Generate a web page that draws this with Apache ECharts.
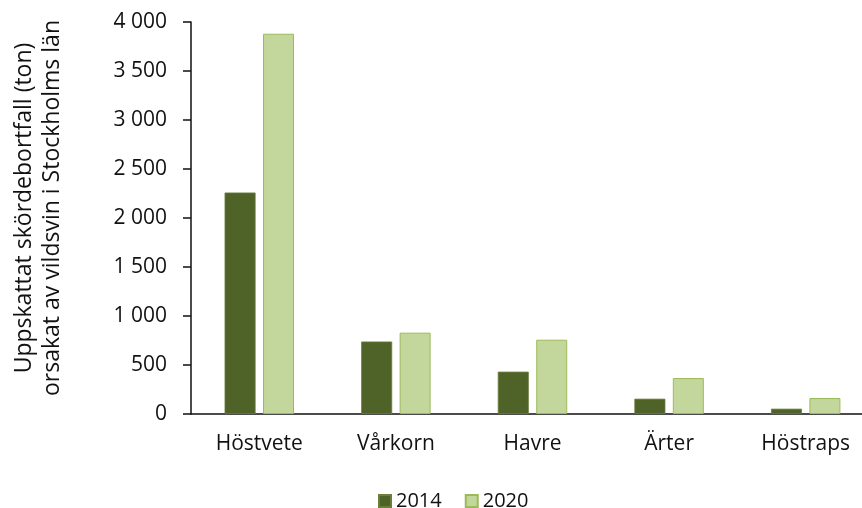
<!DOCTYPE html>
<html>
<head>
<meta charset="utf-8">
<script src="https://cdn.jsdelivr.net/npm/echarts@6/dist/echarts.min.js"></script>
<style>
html,body{margin:0;padding:0;background:#fff;}
#c{width:862px;height:508px;}
</style>
</head>
<body>
<div id="c"></div>
<script>
var categories = ['Höstvete', 'Vårkorn', 'Havre', 'Ärter', 'Höstraps'];
var series2014 = [2260, 740, 432, 156, 54];
var series2020 = [3880, 830, 758, 367, 163];
var seriesNames = ['2014', '2020'];
var yTitleLines = ['Uppskattat skördebortfall (ton)', 'orsakat av vildsvin i Stockholms län'];

var FONT = '"Open Sans", sans-serif';
var chart = echarts.init(document.getElementById('c'));
chart.setOption({
  animation: false,
  backgroundColor: '#fff',
  textStyle: { fontFamily: FONT, color: '#111' },
  grid: { left: 191, top: 22, height: 392, width: 683, containLabel: false, outerBoundsMode: 'none' },
  legend: {
    data: seriesNames,
    left: 373, top: 486,
    itemWidth: 12, itemHeight: 12, itemGap: 23,
    icon: 'rect',
    textStyle: { fontFamily: FONT, fontSize: 20, color: '#111', padding: [0, 0, 0, 0] }
  },
  graphic: [
    { type: 'text', x: 24, y: 208, rotation: Math.PI / 2,
      style: { text: yTitleLines[0], font: '23px ' + FONT, fill: '#111', textAlign: 'center', textVerticalAlign: 'middle' } },
    { type: 'text', x: 52, y: 208, rotation: Math.PI / 2,
      style: { text: yTitleLines[1], font: '23px ' + FONT, fill: '#111', textAlign: 'center', textVerticalAlign: 'middle' } }
  ],
  xAxis: {
    type: 'category',
    data: categories,
    axisLine: { lineStyle: { color: '#111', width: 1.5 } },
    axisTick: { show: false },
    axisLabel: { fontFamily: FONT, fontSize: 21, color: '#111', margin: 20 }
  },
  yAxis: {
    type: 'value',
    min: 0, max: 4000, interval: 500,
    axisLine: { show: true, lineStyle: { color: '#111', width: 1.5 } },
    axisTick: { show: true, length: 8, lineStyle: { color: '#111', width: 1.5 } },
    splitLine: { show: false },
    axisLabel: {
      fontFamily: FONT, fontSize: 21, color: '#111', margin: 24,
      formatter: function (v) { return String(v).replace(/\B(?=(\d{3})+(?!\d))/g, ' '); }
    }
  },
  series: [
    { name: seriesNames[0], type: 'bar', data: series2014, barWidth: 31, barGap: '24%',
      itemStyle: { color: '#4f6228', borderColor: '#6a7f3c', borderWidth: 0.8 } },
    { name: seriesNames[1], type: 'bar', data: series2020, barWidth: 31, barGap: '24%',
      itemStyle: { color: '#c3d69b', borderColor: '#9bbb59', borderWidth: 1 } }
  ]
});
</script>
</body>
</html>
